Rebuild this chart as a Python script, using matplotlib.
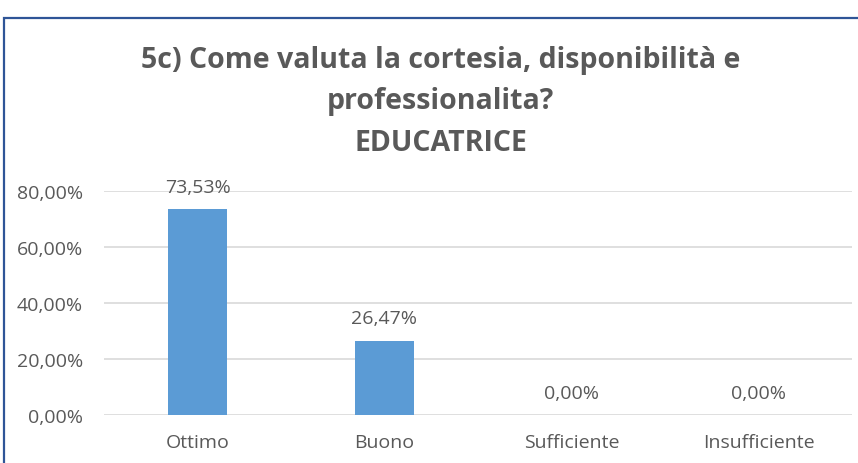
import matplotlib.pyplot as plt
from matplotlib.patches import Rectangle

categories = ['Ottimo', 'Buono', 'Sufficiente', 'Insufficiente']
values = [73.53, 26.47, 0.0, 0.0]
yticks = [0, 20, 40, 60, 80]

title = ('5c) Come valuta la cortesia, disponibilità e\n'
         'professionalita?\nEDUCATRICE')

bar_col = '#5B9BD5'
txt_col = '#595959'
plt.rcParams['font.family'] = ['Open Sans', 'DejaVu Sans']

fig = plt.figure(figsize=(8.58, 4.64), dpi=100)
W, H = 858, 464
# axes in pixel coords: x 104..852, y 192..416 (from top)
ax = fig.add_axes([104 / W, 1 - 416 / H, 748 / W, 224 / H])

x = range(len(categories))
ax.bar(x, values, width=0.315, color=bar_col, zorder=3)
for xi, v in zip(x, values):
    ax.text(xi, v + 4.8, f'{v:.2f}%'.replace('.', ','), ha='center', va='bottom',
            fontsize=14, color=txt_col, clip_on=False)

ax.set_xlim(-0.5, len(categories) - 0.5)
ax.set_ylim(0, 80)
ax.set_yticks(yticks)
ax.set_yticklabels([f'{t:.2f}%'.replace('.', ',') for t in yticks])
ax.set_xticks(list(x))
ax.set_xticklabels(categories)
ax.tick_params(axis='both', length=0, labelsize=14, labelcolor=txt_col)
ax.tick_params(axis='y', pad=15)
ax.tick_params(axis='x', pad=13)
ax.grid(axis='y', color='#D9D9D9', linewidth=1.2, zorder=0)
for s in ax.spines.values():
    s.set_visible(False)

fig.text(0.5 * (143 + 738) / W, 1 - 46 / H, title, ha='center', va='top',
         fontsize=20.5, fontweight='bold', color=txt_col, linespacing=1.56)

# chart frame (cut off at right and bottom)
fig.patches.append(Rectangle((3.5 / W, -0.1), 1.2, 1 - 18.5 / H + 0.1,
                             transform=fig.transFigure, fill=False,
                             edgecolor='#2F5597', linewidth=1.6))

fig.savefig('out.png', dpi=100)
